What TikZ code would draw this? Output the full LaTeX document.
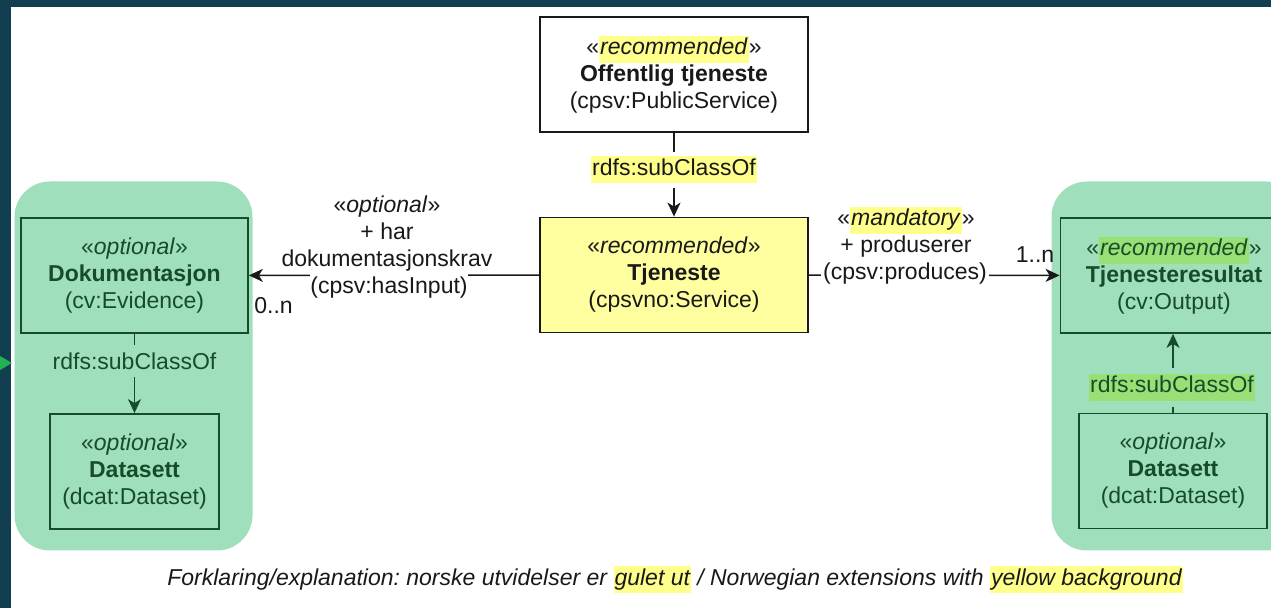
\documentclass[tikz,border=0pt]{standalone}
\usepackage{fontspec}
\setmainfont{Liberation Sans}
\usepackage{xcolor}
\usetikzlibrary{arrows.meta,positioning}
\definecolor{kant}{RGB}{17,63,79}
\definecolor{grpgronn}{RGB}{160,223,187}
\definecolor{mork}{RGB}{22,76,42}
\definecolor{gulfyll}{RGB}{255,255,160}
\definecolor{gulmerk}{RGB}{255,255,140}
\definecolor{gronnmerk}{RGB}{152,224,118}
\definecolor{pilgronn}{RGB}{34,178,84}
\newcommand{\hlgul}[1]{{\setlength{\fboxsep}{0pt}\colorbox{gulmerk}{\strut\kern0.5pt#1\kern0.5pt}}}
\newcommand{\hlgronn}[1]{{\setlength{\fboxsep}{0pt}\colorbox{gronnmerk}{\strut\kern0.5pt#1\kern0.5pt}}}
\frenchspacing

\begin{document}
\begin{tikzpicture}[
  x=0.5pt, y=-0.5pt,
  every node/.style={font=\fontsize{11.5pt}{13.5pt}\selectfont, text=black!90},
  klasse/.style={draw=black!90, line width=0.9pt, fill=white, align=center,
    inner sep=0pt, minimum width=134pt, minimum height=57.5pt},
  gklasse/.style={klasse, draw=mork, fill=grpgronn, text=mork, minimum width=113.5pt},
  gruppe/.style={fill=grpgronn, draw=grpgronn, line width=1.5pt, rounded corners=17pt},
  pil/.style={draw=black!90, line width=0.8pt, -{Stealth[length=7pt, width=6.5pt, inset=2pt]}},
  gpil/.style={pil, draw=mork, fill=mork},
  etikett/.style={fill=white, inner xsep=0pt, inner ysep=2.25pt}
]
\clip (0,0) rectangle (1271,608);
\fill[white] (0,0) rectangle (1271,608);
\fill[kant] (0,0) rectangle (1271,7);
\fill[kant] (0,0) rectangle (11,608);
\fill[pilgronn] (0,356) -- (12,363) -- (0,370) -- cycle;

\draw[gruppe] (16,183) rectangle (251,549);
\draw[gruppe] (1053,183) rectangle (1300,549);

\node[klasse] (offentlig) at (674,74.5)
  {«\hlgul{\textit{recommended}}»\\\textbf{Offentlig tjeneste}\\(cpsv:PublicService)};
\node[klasse, fill=gulfyll] (tjeneste) at (674,275)
  {«\textit{recommended}»\\\textbf{Tjeneste}\\(cpsvno:Service)};
\node[gklasse] (dokumentasjon) at (134.5,275.5)
  {«\textit{optional}»\\\textbf{Dokumentasjon}\\(cv:Evidence)};
\node[gklasse, minimum width=84.5pt] (datasett1) at (134.5,471.5)
  {«\textit{optional}»\\\textbf{Datasett}\\(dcat:Dataset)};
\node[gklasse] (resultat) at (1174,275.5)
  {«\hlgronn{\textit{recommended}}»\\\textbf{Tjenesteresultat}\\(cv:Output)};
\node[gklasse, minimum width=94pt] (datasett2) at (1173,471)
  {«\textit{optional}»\\\textbf{Datasett}\\(dcat:Dataset)};

\draw[pil] (offentlig) -- (tjeneste);
\draw[pil] (tjeneste) -- (dokumentasjon);
\draw[pil] (tjeneste) -- (resultat);
\draw[gpil] (dokumentasjon) -- (datasett1);
\draw[gpil] (datasett2.north) -- (datasett2.north |- resultat.south);

\node[etikett] (sub1) at (674,170) {\hlgul{rdfs:subClassOf}};
\node[etikett, fill=grpgronn, text=mork, inner ysep=4pt] (sub2) at (134.5,361) {rdfs:subClassOf};
\node[etikett, fill=grpgronn, text=mork, inner ysep=3pt] (sub3) at (1172,387.5) {\hlgronn{rdfs:subClassOf}};

\node[fill=white, inner xsep=0pt, inner ysep=2pt] (hasinput) at (389,288) {(cpsv:hasInput)};
\node[align=center, inner sep=0pt] (harkrav) at (387,234) {«\textit{optional}»\\+ har\\dokumentasjonskrav};
\node[fill=white, inner xsep=1pt, inner ysep=2pt] (produces) at (905,274) {(cpsv:produces)};
\node[align=center, inner sep=0pt] (produserer) at (906,232) {«\hlgul{\textit{mandatory}}»\\+ produserer};
\node[anchor=west, inner sep=0pt] (mult0) at (254,306) {0..n};
\node[inner sep=0pt] (mult1) at (1035,255) {1..n};

\node[font=\fontsize{11.5pt}{13.5pt}\selectfont\itshape] (forklaring) at (675,580)
  {Forklaring/explanation: norske utvidelser er \hlgul{gulet ut} / Norwegian extensions with \hlgul{yellow background}};
\end{tikzpicture}
\end{document}
